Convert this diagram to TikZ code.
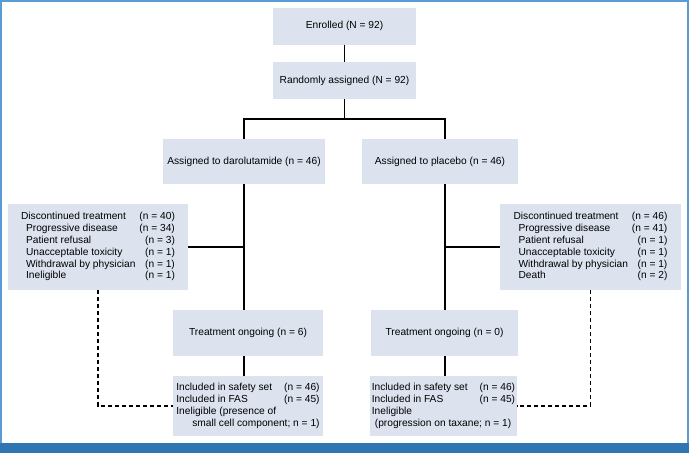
\documentclass[tikz,border=0pt]{standalone}
\usepackage{fontspec}
\setmainfont{Liberation Sans}
\usepackage{xcolor}
\definecolor{boxfill}{HTML}{DCE3EF}
\definecolor{frameblue}{HTML}{5B9BD5}
\definecolor{barblue}{HTML}{2E75B2}

\tikzset{
    box/.style={fill=boxfill, inner sep=0pt, align=center, font=\fontsize{10.2}{11.8}\selectfont},
    link/.style={line width=1.2pt},
    dashlink/.style={line width=1.2pt, dash pattern=on 4pt off 3pt}
}

\begin{document}
\begin{tikzpicture}[x=1pt, y=-1pt]
        \useasboundingbox (0,0) rectangle (689,453);

        % Frame
        \fill[barblue] (0,443) rectangle (689,453);
        \draw[frameblue, line width=1.5pt] (0.75,443) -- (0.75,0.75) -- (688,0.75) -- (688,443);

        % Boxes
        \node[box, minimum width=143pt, minimum height=37pt] (enr)  at (344.5,26)  {Enrolled (N = 92)};
        \node[box, minimum width=143pt, minimum height=37pt] (rand) at (344.5,80.5) {Randomly assigned (N = 92)};
        \node[box, minimum width=162pt, minimum height=45pt] (armD) at (244,161.5) {Assigned to darolutamide (n = 46)};
        \node[box, minimum width=156pt, minimum height=45pt] (armP) at (440,161.5) {Assigned to placebo (n = 46)};

        \node[box, minimum width=180pt, minimum height=86pt] (disD) at (98,247) {%
            \begin{tabular}{@{}l@{\hspace{4pt}}r@{}}
                Discontinued treatment & (n = 40)\\
                \hspace{5pt}Progressive disease & (n = 34)\\
                \hspace{5pt}Patient refusal & (n = 3)\\
                \hspace{5pt}Unacceptable toxicity & (n = 1)\\
                \hspace{5pt}Withdrawal by physician & (n = 1)\\
                \hspace{5pt}Ineligible & (n = 1)
            \end{tabular}};
        \node[box, minimum width=181pt, minimum height=86pt] (disP) at (590.5,247) {%
            \begin{tabular}{@{}l@{\hspace{4pt}}r@{}}
                Discontinued treatment & (n = 46)\\
                \hspace{5pt}Progressive disease & (n = 41)\\
                \hspace{5pt}Patient refusal & (n = 1)\\
                \hspace{5pt}Unacceptable toxicity & (n = 1)\\
                \hspace{5pt}Withdrawal by physician & (n = 1)\\
                \hspace{5pt}Death & (n = 2)
            \end{tabular}};

        \node[box, minimum width=150pt, minimum height=46pt] (ongD) at (248,333)   {Treatment ongoing (n = 6)};
        \node[box, minimum width=147pt, minimum height=46pt] (ongP) at (444.5,333) {Treatment ongoing (n = 0)};

        \node[box, minimum width=150pt, minimum height=60pt] (incD) at (248,406) {%
            \begin{tabular}{@{}l@{\hspace{12pt}}r@{}}
                Included in safety set & (n = 46)\\
                Included in FAS & (n = 45)\\
                \multicolumn{2}{@{}l@{}}{Ineligible (presence of}\\
                \multicolumn{2}{@{}r@{}}{small cell component; n = 1)}
            \end{tabular}};
        \node[box, minimum width=147pt, minimum height=60pt] (incP) at (443.5,406) {%
            \begin{tabular}{@{}l@{\hspace{12pt}}r@{}}
                Included in safety set & (n = 46)\\
                Included in FAS & (n = 45)\\
                \multicolumn{2}{@{}l@{}}{Ineligible}\\
                \multicolumn{2}{@{}l@{}}{\hspace{3pt}(progression on taxane; n = 1)}
            \end{tabular}};

        % Branch points
        \coordinate (splitD) at (244,119);
        \coordinate (splitP) at (445,119);

        % Solid connectors
        \draw[link] (enr) -- (rand);
        \draw[link] (rand.south) -- (rand.south |- splitD);
        \draw[link] (armD.north) -- (splitD) -- (splitP) -- (splitP |- armP.north);
        \draw[link] (armD.south) -- (armD.south |- ongD.north);
        \draw[link] (splitP |- armP.south) -- (splitP |- ongP.north);
        \draw[link] (armD.south |- ongD.south) -- (armD.south |- incD.north);
        \draw[link] (splitP |- ongP.south) -- (splitP |- incP.north);
        \draw[link] (disD.east) -- (disD.east -| splitD);
        \draw[link] (disP.west -| splitP) -- (disP.west);

        % Dashed connectors
        \draw[dashlink] (disD.south) |- (incD.west);
        \draw[dashlink] (disP.south) |- (incP.east);
\end{tikzpicture}
\end{document}
